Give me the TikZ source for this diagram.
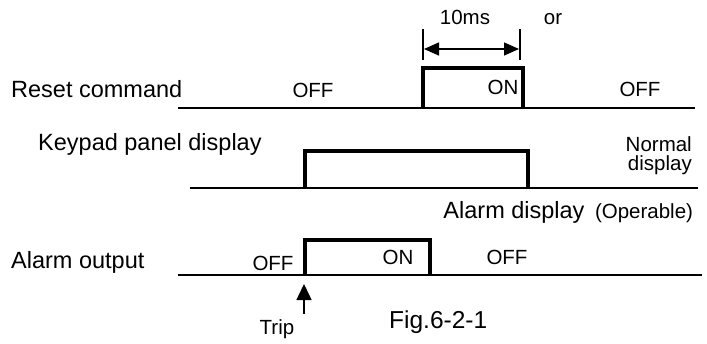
\documentclass[tikz,border=0pt]{standalone}
\usepackage{fontspec}
\setmainfont{Liberation Sans}
\usetikzlibrary{arrows.meta}
\begin{document}
\begin{tikzpicture}[x=1pt,y=-1pt,
  base/.style={line width=1.7pt},
  pulse/.style={line width=3.8pt,line join=miter},
  tick/.style={line width=1.3pt},
  big/.style={inner sep=0pt,font=\fontsize{23.5}{27}\selectfont},
  small/.style={inner sep=0pt,font=\fontsize{20.5}{24}\selectfont},
  fig/.style={inner sep=0pt,font=\fontsize{24.5}{28}\selectfont},
  dim/.style={line width=1.5pt,{Triangle[length=15pt,width=13pt]}-{Triangle[length=15pt,width=13pt]}},
  trip/.style={line width=1.5pt,-{Triangle[length=16pt,width=15pt]}}]
\useasboundingbox (0,0) rectangle (707,343);
% --- Reset command
\coordinate (r0) at (178,108);
\coordinate (r1) at (423,108);
\coordinate (r2) at (523,108);
\coordinate (r3) at (695,108);
\draw[base] (r0) -- (r3);
\draw[pulse] (r1) -- (423,68) -- (523,68) -- (r2);
\coordinate (t1a) at (423,29);
\coordinate (t1b) at (423,60);
\coordinate (t2a) at (520,29);
\coordinate (t2b) at (520,60);
\draw[tick] (t1a) -- (t1b);
\draw[tick] (t2a) -- (t2b);
\coordinate (d1) at (424,49);
\coordinate (d2) at (519,49);
\draw[dim] (d1) -- (d2);
\node[small,anchor=base] (tenms) at (465,24) {10ms};
\node[small,anchor=base] (or) at (553,24) {or};
\node[big,anchor=base west] (reset) at (11,97) {Reset command};
\node[small,anchor=base] (roff1) at (313,97) {OFF};
\node[small,anchor=base] (ron) at (503,94) {ON};
\node[small,anchor=base] (roff2) at (640,96) {OFF};
% --- Keypad
\coordinate (k0) at (190,188);
\coordinate (k1) at (305,188);
\coordinate (k2) at (528,188);
\coordinate (k3) at (698,188);
\draw[base] (k0) -- (k3);
\draw[pulse] (k1) -- (305,151) -- (528,151) -- (k2);
\node[big,anchor=base west] (keypad) at (38,150) {Keypad panel display};
\node[inner sep=0pt,align=right,anchor=base east,font=\fontsize{20.5}{18.5}\selectfont] (normal) at (692,170) {Normal\\display};
\node[big,anchor=base] (alarmdisp) at (514,218) {Alarm display};
\node[small,anchor=base] (oper) at (644,218) {(Operable)};
% --- Alarm output
\coordinate (a0) at (178,275);
\coordinate (a1) at (305,275);
\coordinate (a2) at (430,275);
\coordinate (a3) at (702,275);
\draw[base] (a0) -- (a3);
\draw[pulse] (a1) -- (305,240) -- (430,240) -- (a2);
\node[big,anchor=base west] (alarmout) at (11,268) {Alarm output};
\node[small,anchor=base] (aoff1) at (273,270) {OFF};
\node[small,anchor=base] (aon) at (398,264) {ON};
\node[small,anchor=base] (aoff2) at (507,264) {OFF};
% --- Trip
\coordinate (tripbase) at (304,314);
\coordinate (triptip) at (304,284);
\draw[trip] (tripbase) -- (triptip);
\node[small,anchor=base] (trip) at (277,334) {Trip};
\node[fig,anchor=base west] (figlabel) at (389,328) {Fig.6-2-1};
\end{tikzpicture}
\end{document}
